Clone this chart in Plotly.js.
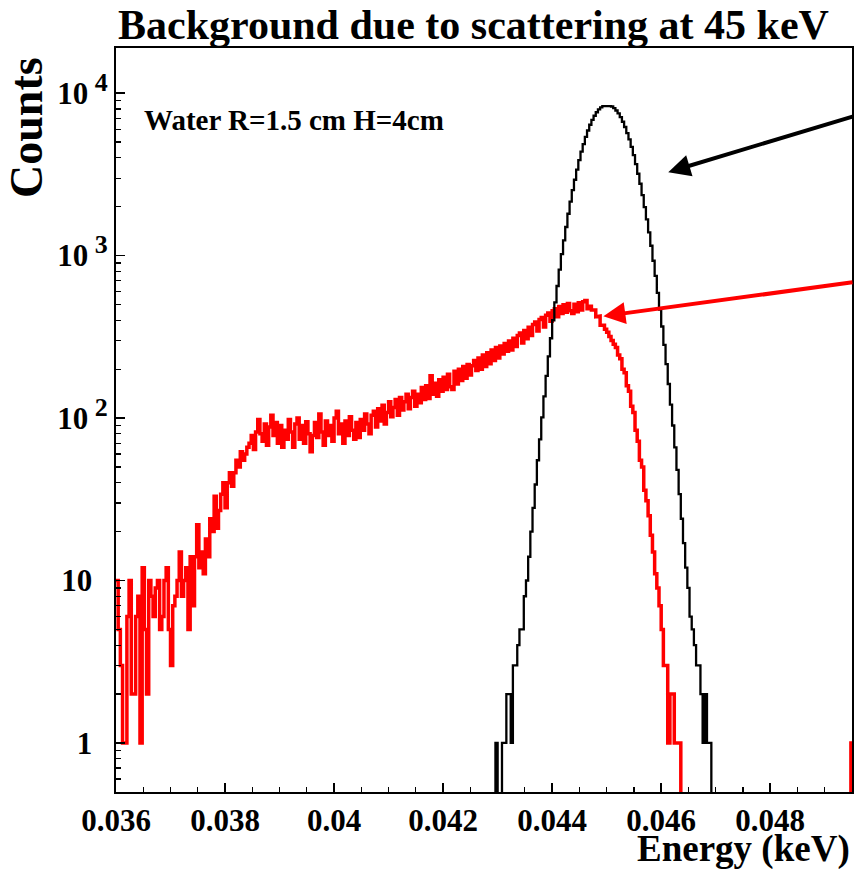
<!DOCTYPE html>
<html>
<head>
<meta charset="utf-8">
<script src="https://cdn.plot.ly/plotly-3.0.1.min.js"></script>
<style>
  html, body { margin: 0; padding: 0; background: #ffffff; }
  #chart { width: 854px; height: 869px; }
</style>
</head>
<body>
<div id="chart"></div>
<script>
// ---------------- data ----------------
const histStart = 0.036;      // lower edge of first bin
const binWidth = 0.00004;     // bin width

// scattered (background) spectrum: counts per bin, from histStart
const redCounts = [
  // 0.0360 ...
  10, 5, 3, 1, 1, 6, 10, 2, 2, 6,
  8, 1, 12, 5, 2, 10, 8, 6, 9, 10,
  5, 6, 10, 12, 5, 3, 7, 8, 10, 15,
  8, 10, 12, 5, 14, 7, 14, 22, 12, 15,
  11, 18, 14, 24, 20, 33, 21, 27, 34, 40,
  28, 40, 46, 38, 46, 55, 50, 62, 55, 60, 66,
  // plateau
  70, 78, 64, 82, 98, 80, 72, 92, 68, 88,
  104, 78, 94, 70, 90, 66, 84, 74, 98, 82,
  66, 92, 100, 74, 90, 70, 95, 80, 62, 78,
  94, 76, 106, 82, 68, 96, 78, 90, 72, 100,
  110, 80, 92, 70, 96, 78, 102, 84, 74, 94, 76,
  // rise
  98, 84, 106, 92, 80, 104, 110, 88, 114, 96,
  120, 92, 108, 126, 102, 116, 130, 104, 134, 112,
  126, 140, 114, 134, 146, 118, 140, 124, 154, 130,
  158, 132, 182, 140, 164, 136, 172, 146, 178, 150,
  186, 156, 150, 194, 162, 200, 170, 208, 176, 214,
  184, 210, 226, 196, 234, 200, 244, 208, 252, 216,
  262, 226, 272, 234, 278,
  // towards the maximum
  248, 288, 258, 298, 262, 310, 276, 322, 334, 290,
  346, 308, 362, 322, 376, 390, 344, 404, 416, 364,
  430, 444, 394, 458, 470, 420, 486, 440, 498, 448,
  508, 458, 440, 502, 452, 512, 462, 520, 530, 470,
  488, 462, 462, 420, 424, 372,
  // fall-off
  372, 352, 338, 318, 300, 285, 272, 244, 232, 200,
  190, 158, 146, 118, 108, 84, 72, 55, 50, 36,
  31, 25, 19, 15, 11, 9, 7, 5, 3, 3,
  1, 2, 2, 1, 1, 1,
  // empty
  0, 0, 0, 0, 0, 0, 0, 0, 0, 0,
  0, 0, 0, 0, 0, 0, 0, 0, 0, 0,
  0, 0, 0, 0, 0, 0, 0, 0, 0, 0,
  0, 0, 0, 0, 0, 0, 0, 0, 0, 0,
  0, 0, 0, 0, 0, 0, 0, 0, 0, 0,
  0, 0, 0, 0, 0, 0, 0, 0, 0, 0,
  0, 0, 0, 0, 0, 0, 0, 0, 0, 0,
  0, 0, 0, 0, 0, 0, 0, 0,
  // last bin
  1
];

// full-energy peak: counts per bin, first entry is bin number blackFirstBin
const blackFirstBin = 174;
const blackCounts = [
  1, 0, 0, 1, 1, 2, 2, 1, 3, 3,
  4, 5, 5, 8, 10, 14, 20, 28, 39, 55,
  74, 101, 136, 182, 240, 310, 400, 515, 650, 820,
  1020, 1240, 1500, 1810, 2150, 2530, 2930, 3380, 3870, 4370,
  4860, 5380, 5890, 6390, 6840, 7260, 7630, 7940, 8170, 8330,
  8380, 8400, 8330, 8280, 8080, 7820, 7500, 7110, 6670, 6190,
  5680, 5190, 4670, 4150, 3660, 3190, 2770, 2360, 1990, 1670,
  1390, 1150, 930, 750, 590, 465, 366, 282, 215, 162,
  121, 90, 66, 48, 34, 24, 17, 12, 9, 6,
  5, 4, 3, 3, 2, 1, 2, 1, 1
];

const xTickVals = [0.036, 0.038, 0.040, 0.042, 0.044, 0.046, 0.048];
const xTickText = ["0.036", "0.038", "0.04", "0.042", "0.044", "0.046", "0.048"];
const yTickVals = [1, 10, 100, 1000, 10000];
const supOpen = '<sup><span style="font-size:26px">';
const yTickText = ["1\u00a0\u00a0", "10\u00a0\u00a0",
  "10" + supOpen + " 2</span></sup>", "10" + supOpen + " 3</span></sup>", "10" + supOpen + " 4</span></sup>"];

const titleText = "Background due to scattering at 45 keV";
const xTitleText = "Energy (keV)";
const yTitleText = "Counts";
const noteText = "Water R=1.5 cm H=4cm";

// ---------------- build step outlines ----------------
const FLOOR = 0.05; // zero-count bins drop below the visible log range
function steps(counts, firstBin, nTotal) {
  const xs = [], ys = [];
  for (let i = 0; i < nTotal; i++) {
    const k = i - firstBin;
    const v = (k >= 0 && k < counts.length) ? counts[k] : 0;
    const lo = histStart + i * binWidth;
    const hi = lo + binWidth;
    const yv = v > 0 ? v : FLOOR;
    xs.push(lo, hi);
    ys.push(yv, yv);
  }
  return { xs, ys };
}
const nBins = redCounts.length;
const red = steps(redCounts, 0, nBins);
const blk = steps(blackCounts, blackFirstBin, nBins);

const serif = "Liberation Serif, Times New Roman, serif";

const traces = [
  { x: red.xs, y: red.ys, type: "scatter", mode: "lines",
    line: { color: "#ff0000", width: 3.5, shape: "linear" }, hoverinfo: "skip", showlegend: false },
  { x: blk.xs, y: blk.ys, type: "scatter", mode: "lines",
    line: { color: "#000000", width: 2.3, shape: "linear" }, hoverinfo: "skip", showlegend: false }
];

// minor tick positions on log axis
const minorY = [];
[0.1, 1, 10, 100, 1000].forEach(d => { for (let m = 2; m <= 9; m++) minorY.push(d * m); });

const layout = {
  width: 854, height: 869,
  paper_bgcolor: "#ffffff", plot_bgcolor: "#ffffff",
  margin: { l: 116, r: 2, t: 48, b: 77, pad: 0 },
  showlegend: false,
  xaxis: {
    range: [0.036, 0.0495],
    tickmode: "array", tickvals: xTickVals, ticktext: xTickText,
    ticks: "inside", ticklen: 9, tickwidth: 1.5, tickcolor: "#000",
    minor: { dtick: 0.0005, tick0: 0.036, ticks: "inside", ticklen: 5, tickwidth: 1.2, tickcolor: "#000", showgrid: false },
    showline: true, linecolor: "#000", linewidth: 2, mirror: true,
    showgrid: false, zeroline: false,
    tickfont: { family: serif, size: 31, color: "#000", weight: "bold" }
  },
  yaxis: {
    type: "log", range: [-0.302, 4.278],
    tickmode: "array", tickvals: yTickVals, ticktext: yTickText,
    ticks: "inside", ticklen: 9, tickwidth: 1.5, tickcolor: "#000",
    minor: { tickmode: "array", tickvals: minorY, ticks: "inside", ticklen: 5, tickwidth: 1.2, tickcolor: "#000", showgrid: false },
    showline: true, linecolor: "#000", linewidth: 2, mirror: true,
    showgrid: false, zeroline: false,
    tickfont: { family: serif, size: 31, color: "#000", weight: "bold" }
  },
  annotations: [
    { text: titleText, xref: "paper", yref: "paper", x: 0.486, y: 1, yshift: 23,
      xanchor: "center", yanchor: "middle", showarrow: false,
      font: { family: serif, size: 42, color: "#000", weight: "bold" } },
    { text: xTitleText, xref: "paper", yref: "paper", x: 1, y: 0, yshift: -57,
      xanchor: "right", yanchor: "middle", showarrow: false,
      font: { family: serif, size: 37, color: "#000", weight: "bold" } },
    { text: yTitleText, xref: "paper", yref: "paper", x: 0, y: 1, xshift: -90, yshift: -80,
      xanchor: "center", yanchor: "middle", textangle: -90, showarrow: false,
      font: { family: serif, size: 46, color: "#000", weight: "bold" } },
    { text: noteText, xref: "paper", yref: "paper", x: 0, y: 1, xshift: 178, yshift: -72,
      xanchor: "center", yanchor: "middle", showarrow: false,
      font: { family: serif, size: 29, color: "#000", weight: "bold" } },
    { text: "", x: 0.04613, y: Math.log10(3265), xref: "x", yref: "y",
      showarrow: true, ax: 190, ay: -56, axref: "pixel", ayref: "pixel",
      arrowcolor: "#000", arrowwidth: 4, arrowhead: 2, arrowsize: 1.1, standoff: 0 },
    { text: "", x: 0.04494, y: Math.log10(424), xref: "x", yref: "y",
      showarrow: true, ax: 255, ay: -34, axref: "pixel", ayref: "pixel",
      arrowcolor: "#ff0000", arrowwidth: 4, arrowhead: 2, arrowsize: 1.1, standoff: 0 }
  ]
};

Plotly.newPlot("chart", traces, layout, { staticPlot: true, displayModeBar: false });
</script>
</body>
</html>
